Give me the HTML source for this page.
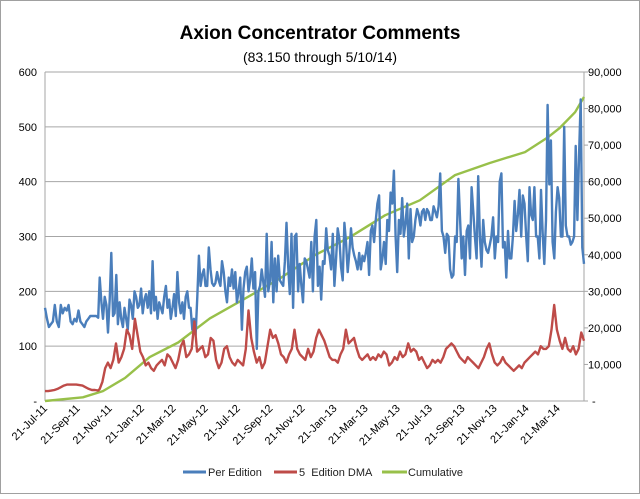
<!DOCTYPE html>
<html><head><meta charset="utf-8"><style>
html,body{margin:0;padding:0;background:#fff}
body{width:640px;height:494px;overflow:hidden;font-family:"Liberation Sans",sans-serif}
svg text{font-family:"Liberation Sans",sans-serif}
</style></head><body>
<svg id="chart" width="640" height="494" viewBox="0 0 640 494" xmlns="http://www.w3.org/2000/svg">
<rect x="0.5" y="0.5" width="639" height="493" fill="#fff" stroke="#a0a0a0"/>
<text x="320" y="39" text-anchor="middle" font-size="19" font-weight="bold" fill="#000">Axion Concentrator Comments</text>
<text x="320" y="62" text-anchor="middle" font-size="14" fill="#000">(83.150 through 5/10/14)</text>
<g id="grid"></g>
<g id="axes"></g>
<g id="series"></g>
<g id="legend">
<line x1="183" y1="472" x2="206" y2="472" stroke="#4a7ebb" stroke-width="3"/>
<text x="208" y="476" font-size="11" fill="#222">Per Edition</text>
<line x1="274" y1="472" x2="297" y2="472" stroke="#be4b48" stroke-width="3"/>
<text x="299" y="476" font-size="11" fill="#222" xml:space="preserve">5  Edition DMA</text>
<line x1="382" y1="472" x2="407" y2="472" stroke="#98c04a" stroke-width="3"/>
<text x="408" y="476" font-size="11" fill="#222">Cumulative</text>
</g>
</svg>
<script>
const leftTicks = [0,100,200,300,400,500,600];
const leftTickLabels = ["-","100","200","300","400","500","600"];
const rightTicks = [0,10000,20000,30000,40000,50000,60000,70000,80000,90000];
const rightTickLabels = ["-","10,000","20,000","30,000","40,000","50,000","60,000","70,000","80,000","90,000"];
const xTickLabels = ["21-Jul-11","21-Sep-11","21-Nov-11","21-Jan-12","21-Mar-12","21-May-12","21-Jul-12","21-Sep-12","21-Nov-12","21-Jan-13","21-Mar-13","21-May-13","21-Jul-13","21-Sep-13","21-Nov-13","21-Jan-14","21-Mar-14"];
const xTickDates = ["2011-07-21","2011-09-21","2011-11-21","2012-01-21","2012-03-21","2012-05-21","2012-07-21","2012-09-21","2012-11-21","2013-01-21","2013-03-21","2013-05-21","2013-07-21","2013-09-21","2013-11-21","2014-01-21","2014-03-21"];
const startDate = "2011-07-21";
const splitDate = "2011-11-02";
const endDate = "2014-05-10";
const perEditionEarly = [170,150,135,140,145,175,145,135,175,160,170,165,175,145,140,150,145,165,145,140,135,145,150,155,155,155,155,152];
const perEditionLate = [225,180,150,190,175,125,185,270,155,160,230,140,180,150,135,170,150,130,185,175,150,200,190,170,
175,205,160,185,195,170,200,160,255,165,190,150,180,170,160,190,210,170,185,150,170,195,155,
235,180,160,180,150,190,200,170,170,130,150,120,190,265,210,230,240,210,210,280,240,215,210,
215,235,220,210,255,235,200,180,225,210,240,205,235,180,200,225,130,205,235,245,200,220,260,
205,235,95,200,210,240,215,190,305,200,220,290,180,260,200,265,220,215,210,255,325,245,195,
305,170,300,305,200,250,210,180,260,255,240,225,290,200,300,330,210,245,185,255,250,
315,275,265,240,305,210,260,315,295,245,220,325,290,235,270,315,280,265,255,240,270,
240,265,255,270,290,230,310,320,290,330,360,375,240,260,290,250,330,310,
380,360,420,300,235,330,305,370,300,325,360,260,350,290,300,330,350,340,320,345,
350,330,350,345,330,330,355,345,335,355,415,310,300,270,305,300,240,225,230,300,
290,405,335,260,300,230,310,320,260,390,345,300,260,410,300,245,330,290,275,270,285,300,
335,260,300,290,400,415,280,290,225,310,260,260,300,365,310,340,385,
300,375,360,300,255,390,340,330,390,300,300,260,385,305,250,330,
540,395,475,290,260,345,390,370,300,300,500,320,
300,300,285,290,300,465,330,445,550,280,250];
const dmaEarly = [18,18,19,20,22,25,28,30,30,30,30,29,28,25,22,20,20,19];
const dmaLate = [22,35,60,70,60,75,105,70,80,95,130,120,95,150,120,90,80,65,70,60,55,65,70,75,65,85,80,70,60,75,100,110,80,85,95,145,90,95,100,80,85,115,110,75,60,70,95,100,80,70,65,75,70,65,95,165,115,90,70,80,60,70,100,130,115,120,105,85,80,70,85,95,130,95,85,80,75,95,80,90,115,130,120,110,95,80,75,75,70,85,95,130,105,110,115,95,80,75,80,85,75,80,75,85,80,90,85,65,70,80,75,90,80,85,105,90,95,90,75,80,70,60,65,75,70,75,70,80,95,100,105,100,90,80,75,70,80,75,70,65,60,70,80,95,105,85,70,65,70,80,70,65,60,55,60,65,60,70,75,80,85,90,85,100,95,95,100,130,175,130,110,95,115,95,90,100,85,95,125,110];
const cumulativeDates = ["2011-07-21","2011-10-01","2011-11-08","2011-12-20","2012-02-05","2012-03-30","2012-05-29","2012-08-04","2012-10-09","2012-12-15","2013-02-19","2013-04-27","2013-07-02","2013-09-07","2013-11-12","2014-01-18","2014-03-03","2014-03-25","2014-04-23","2014-05-10"];
const cumulative = [0,1000,2700,6300,12000,16000,22600,28000,33500,39900,44800,50800,54900,61800,65100,68100,72200,74700,79000,83150];

const X0=45,X1=584,Y0=401,Y1=72;
const t0=Date.parse(startDate), t1=Date.parse(endDate);
const xDate = d => X0 + (Date.parse(d)-t0)/(t1-t0)*(X1-X0);
const yL = v => Y0 - v/600*(Y0-Y1);
const yR = v => Y0 - v/90000*(Y0-Y1);
const NS="http://www.w3.org/2000/svg";
function mk(tag, parent){const e=document.createElementNS(NS,tag);parent.appendChild(e);return e;}
const grid=document.getElementById('grid'), axes=document.getElementById('axes'), series=document.getElementById('series');

leftTicks.forEach((v,i)=>{
  if(v>0){
    const l=mk('line',grid);
    
    
    l.setAttribute('x1',X0);l.setAttribute('x2',X1);l.setAttribute('y1',yL(v));l.setAttribute('y2',yL(v));
    l.setAttribute('stroke','#a6a6a6');l.setAttribute('stroke-width','1');
  }
  const t=mk('text',axes);
  
  
  t.setAttribute('x',37);t.setAttribute('y',yL(v)+4);t.setAttribute('text-anchor','end');t.setAttribute('font-size','11');
  t.textContent=leftTickLabels[i];
});
rightTicks.forEach((v,i)=>{
  const tk=mk('line',axes);
  
  
  tk.setAttribute('x1',X1);tk.setAttribute('x2',X1+4);tk.setAttribute('y1',yR(v));tk.setAttribute('y2',yR(v));tk.setAttribute('stroke','#a6a6a6');
  const t=mk('text',axes);
  
  
  t.setAttribute('x',v===0?592:588);t.setAttribute('y',yR(v)+4);t.setAttribute('font-size','11');
  t.textContent=rightTickLabels[i];
});
[[X0,Y1,X0,Y0],[X1,Y1,X1,Y0],[X0,Y0,X1,Y0],[X0,Y1,X1,Y1]].forEach(a=>{
  const l=mk('line',axes);
  
  
  l.setAttribute('x1',a[0]);l.setAttribute('y1',a[1]);l.setAttribute('x2',a[2]);l.setAttribute('y2',a[3]);l.setAttribute('stroke','#a6a6a6');
});
xTickDates.forEach((d,i)=>{
  const x=xDate(d);
  const t=mk('text',axes);
  
  
  t.setAttribute('text-anchor','end');t.setAttribute('font-size','11');
  t.setAttribute('transform','translate('+(x+3)+',409) rotate(-45)');
  t.textContent=xTickLabels[i];
});
// evenly distribute values of a segment between two dates
function segPts(vals, dA, dB, yf){
  const a=xDate(dA), b=xDate(dB), n=vals.length;
  return vals.map((v,i)=>[a+(b-a)*(n>1?i/(n-1):0), yf(v)]);
}
function draw(pts, color, name){
  const p=mk('polyline',series);
  
  
  p.setAttribute('points',pts.map(q=>q[0].toFixed(1)+','+q[1].toFixed(1)).join(' '));
  p.setAttribute('fill','none');p.setAttribute('stroke',color);
  p.setAttribute('stroke-width','2.4');p.setAttribute('stroke-linejoin','round');
}
const splitEnd = new Date(Date.parse(splitDate)-86400000*3).toISOString().slice(0,10);
draw(cumulative.map((v,i)=>[xDate(cumulativeDates[i]), yR(v)]),'#98c04a','cumulative-line');
draw(segPts(perEditionEarly,startDate,splitEnd,yL).concat(segPts(perEditionLate,splitDate,endDate,yL)),'#4a7ebb','per-edition-line');
draw(segPts(dmaEarly,startDate,splitEnd,yL).concat(segPts(dmaLate,splitDate,endDate,yL)),'#be4b48','dma-line');
</script>
</body></html>
